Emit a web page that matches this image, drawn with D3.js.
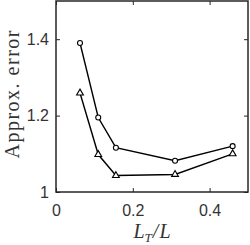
<!DOCTYPE html>
<html>
<head>
<meta charset="utf-8">
<script src="https://cdn.jsdelivr.net/npm/d3@7"></script>
<style>
  body { margin: 0; background: #fff; }
  .tick text { font-family: "Liberation Sans", Arial, sans-serif; font-size: 16px; fill: #333; }
</style>
</head>
<body>
<div id="chart"></div>
<script>
var ratios = [0.0625, 0.11, 0.156, 0.31, 0.46];
var errCircle = [1.39, 1.195, 1.116, 1.082, 1.12];
var errTriangle = [1.259, 1.098, 1.043, 1.046, 1.1];
var xTicks = [0, 0.2, 0.4];
var yTicks = [1, 1.2, 1.4];

var cfg = { w: 250, h: 245, mLeft: 56, mRight: 2, mTop: 1, mBottom: 53 };
var width = cfg.w - cfg.mLeft - cfg.mRight,
	height = cfg.h - cfg.mTop - cfg.mBottom;

var svg = d3.select('#chart').append('svg')
	.attr('width', cfg.w)
	.attr('height', cfg.h)
	.append('g')
	.attr('transform', 'translate(' + cfg.mLeft + ',' + cfg.mTop + ')');

var x = d3.scaleLinear().domain([0, 0.5]).range([0, width]);
var y = d3.scaleLinear().domain([1, 1.5]).range([height, 0]);

function axisStyle(g) {
	g.select('.domain').remove();
	g.selectAll('.tick line').attr('stroke', '#262626').attr('stroke-width', 1);
}

// bottom + top
svg.append('g').attr('transform', 'translate(0,' + height + ')')
	.call(d3.axisBottom(x).tickValues(xTicks).tickSize(-4).tickPadding(13).tickFormat(d3.format('')))
	.call(axisStyle);
svg.append('g')
	.call(d3.axisTop(x).tickValues(xTicks).tickSize(-4).tickFormat(''))
	.call(axisStyle);
// left + right
svg.append('g')
	.call(d3.axisLeft(y).tickValues(yTicks).tickSize(-4).tickPadding(7).tickFormat(d3.format('')))
	.call(axisStyle);
svg.append('g').attr('transform', 'translate(' + width + ',0)')
	.call(d3.axisRight(y).tickValues(yTicks).tickSize(-4).tickFormat(''))
	.call(axisStyle);

svg.append('rect')
	.attr('x', 0).attr('y', 0)
	.attr('width', width).attr('height', height)
	.attr('fill', 'none')
	.attr('stroke', '#262626')
	.attr('stroke-width', 1.5);

var line = d3.line()
	.x(function(d) { return x(d[0]); })
	.y(function(d) { return y(d[1]); });

var circData = ratios.map(function(r, i) { return [r, errCircle[i]]; });
var triData = ratios.map(function(r, i) { return [r, errTriangle[i]]; });

svg.append('path').datum(circData)
	.attr('d', line).attr('fill', 'none').attr('stroke', '#000').attr('stroke-width', 1.4);
svg.append('path').datum(triData)
	.attr('d', line).attr('fill', 'none').attr('stroke', '#000').attr('stroke-width', 1.4);

svg.selectAll('.circ').data(circData).enter().append('circle')
	.attr('cx', function(d) { return x(d[0]); })
	.attr('cy', function(d) { return y(d[1]); })
	.attr('r', 2.5)
	.attr('fill', '#fff').attr('stroke', '#000').attr('stroke-width', 1.1);

var tri = d3.symbol().type(d3.symbolTriangle).size(20);
svg.selectAll('.tri').data(triData).enter().append('path')
	.attr('d', tri)
	.attr('transform', function(d) { return 'translate(' + x(d[0]) + ',' + y(d[1]) + ')'; })
	.attr('fill', '#fff').attr('stroke', '#000').attr('stroke-width', 1.1);

// axis labels
svg.append('text')
	.attr('transform', 'translate(-37,' + (height / 2 - 2) + ') rotate(-90)')
	.attr('text-anchor', 'middle')
	.attr('textLength', 128)
	.attr('lengthAdjust', 'spacing')
	.style('font-family', '"Liberation Serif", serif')
	.style('font-size', '20px')
	.attr('fill', '#333')
	.text('Approx. error');

var xl = svg.append('text')
	.attr('x', width / 2)
	.attr('y', height + 46)
	.attr('text-anchor', 'middle')
	.style('font-family', '"Liberation Serif", serif')
	.style('font-size', '20px')
	.style('font-style', 'italic')
	.attr('fill', '#333');
xl.append('tspan').text('L');
xl.append('tspan').attr('dy', 4).style('font-size', '13px').text('T');
xl.append('tspan').attr('dy', -4).attr('dx', 1).text('/');
xl.append('tspan').attr('dx', 1).text('L');
</script>
</body>
</html>
